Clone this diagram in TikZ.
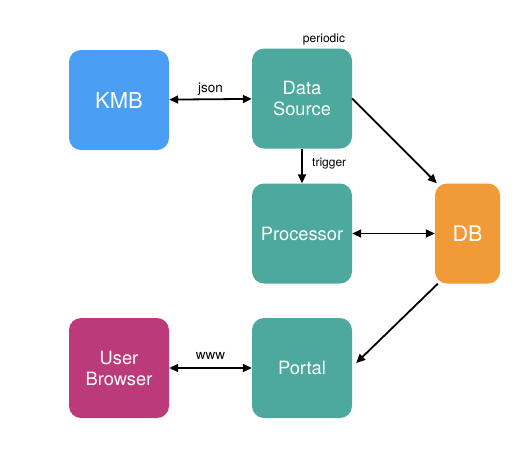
\documentclass[tikz,border=0pt]{standalone}
\usepackage{fontspec}
\setmainfont{TeX Gyre Heros}
\usetikzlibrary{arrows.meta}
\definecolor{kmbblue}{HTML}{4A9FF5}
\definecolor{teal}{HTML}{4DA89D}
\definecolor{dborange}{HTML}{F09A38}
\definecolor{browser}{HTML}{BB3B7A}
\begin{document}
\begin{tikzpicture}[x=1pt,y=-1pt,
  box/.style={rounded corners=12pt, minimum width=100pt, minimum height=100pt,
    text=white, font=\fontsize{18.3}{21}\selectfont, align=center, inner sep=0pt},
  lbl/.style={font=\fontsize{12}{14}\selectfont},
  biglbl/.style={font=\fontsize{13.5}{15}\selectfont},
  link/.style={line width=1.8pt, -{Triangle[length=9pt,width=8pt]}},
  both/.style={line width=1.8pt, {Triangle[length=9pt,width=8pt]}-{Triangle[length=9pt,width=8pt]}}]
  \useasboundingbox (0,0) rectangle (527,451);
  \node[box, fill=kmbblue, font=\fontsize{22}{25}\selectfont] (kmb) at (119,100) {KMB};
  \node[box, fill=teal] (source) at (302,98.5) {Data\\Source};
  \node[box, fill=teal] (proc) at (302,233.5) {Processor};
  \node[box, fill=dborange, minimum width=65pt, font=\fontsize{21.5}{24}\selectfont] (db) at (467.5,233.5) {DB};
  \node[box, fill=browser] (user) at (119,368) {User\\Browser};
  \node[box, fill=teal] (portal) at (302,368) {Portal};
  \node[lbl] (periodic) at (324,39) {periodic};
  % connectors
  \draw[both] (kmb) -- node[biglbl, above] {json} (source);
  \draw[link] (source) -- node[lbl, right, xshift=6pt, yshift=2pt] {trigger} (proc);
  \draw[link] (source.east) -- ([xshift=2pt]db.north west);
  \draw[both] (proc) -- (db);
  \draw[link] ([xshift=3pt]db.south west) -- ([xshift=4pt,yshift=5pt]portal.east);
  \draw[both] (user) -- node[biglbl, above, yshift=4pt] {www} (portal);
\end{tikzpicture}
\end{document}
